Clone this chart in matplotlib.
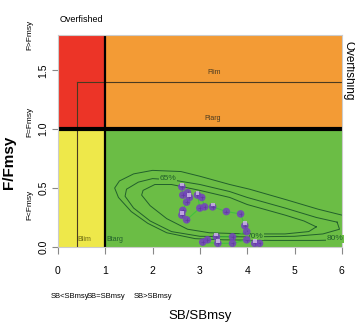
import numpy as np
import matplotlib
matplotlib.use('Agg')
import matplotlib.pyplot as plt

# reference points
Bmsy = 1.0
Fmsy = 1.0
Blim = 0.4
Flim = 1.4
xmax, ymax = 6.0, 1.8

# stock trajectory (SB/SBmsy, F/Fmsy)
traj_b = [2.62, 2.64, 2.74, 2.78, 2.72, 2.64, 2.62, 2.72, 3.00, 2.95, 3.04, 3.10, 3.27,
          3.56, 3.86, 3.95, 3.99, 3.69, 3.35, 3.16, 3.06, 3.38, 3.69, 3.99, 4.16, 4.26]
traj_f = [0.51, 0.44, 0.46, 0.42, 0.38, 0.31, 0.27, 0.23, 0.33, 0.44, 0.42, 0.34, 0.34,
          0.30, 0.28, 0.18, 0.13, 0.085, 0.085, 0.06, 0.04, 0.03, 0.03, 0.06, 0.03, 0.03]

# probability contours
c80_x = [6.0, 5.5, 4.83, 4.05, 3.63, 3.0, 2.6, 2.0, 1.6, 1.3, 1.2, 1.28, 1.55, 1.9, 2.3, 2.9, 3.5, 4.5, 5.5, 6.0]
c80_y = [0.27, 0.32, 0.40, 0.49, 0.53, 0.60, 0.64, 0.65, 0.62, 0.56, 0.50, 0.42, 0.30, 0.20, 0.12, 0.07, 0.06, 0.055, 0.055, 0.06]
c70_x = [5.9, 5.46, 4.8, 4.0, 3.63, 3.0, 2.4, 2.0, 1.7, 1.45, 1.42, 1.6, 1.95, 2.4, 3.0, 4.0, 5.0, 5.6, 5.95, 5.9]
c70_y = [0.21, 0.25, 0.33, 0.42, 0.47, 0.53, 0.57, 0.58, 0.55, 0.49, 0.43, 0.33, 0.22, 0.13, 0.09, 0.085, 0.09, 0.11, 0.15, 0.21]
c65_x = [5.46, 5.2, 4.8, 4.0, 3.63, 3.0, 2.4, 2.05, 1.8, 1.77, 1.95, 2.3, 2.74, 3.2, 4.0, 4.8, 5.3, 5.46]
c65_y = [0.17, 0.22, 0.27, 0.36, 0.42, 0.48, 0.53, 0.53, 0.48, 0.44, 0.35, 0.24, 0.15, 0.12, 0.11, 0.11, 0.13, 0.17]

red = '#EC3427'
orange = '#F39B35'
yellow = '#EEE84A'
green = '#6BBD45'
plt.rcParams['font.family'] = ['Liberation Sans', 'DejaVu Sans']

fig = plt.figure(figsize=(3.55, 3.27), dpi=100)
ax = fig.add_axes([0.163, 0.245, 0.8, 0.648])

ax.fill_between([0, Bmsy], Fmsy, ymax, color=red, lw=0)
ax.fill_between([Bmsy, xmax], Fmsy, ymax, color=orange, lw=0)
ax.fill_between([0, Bmsy], 0, Fmsy, color=yellow, lw=0)
ax.fill_between([Bmsy, xmax], 0, Fmsy, color=green, lw=0)

ax.plot([Blim, Blim], [0, Flim], color='#4a3a20', lw=0.8)
ax.plot([Blim, xmax], [Flim, Flim], color='#4a3a20', lw=0.8)
ax.axvline(Bmsy, color='black', lw=1.6)
ax.axhline(Fmsy, color='black', lw=3)

for cx, cy in [(c80_x, c80_y), (c70_x, c70_y), (c65_x, c65_y)]:
    ax.plot(cx, cy, color='#22602c', lw=0.7)

lab = dict(fontsize=6, color='#22602c', ha='center', va='center',
           bbox=dict(facecolor=green, edgecolor='none', pad=0.3))
ax.text(2.33, 0.58, '65%', **lab)
ax.text(4.17, 0.09, '70%', **lab)
ax.text(5.85, 0.07, '80%', **lab)

ax.plot(traj_b, traj_f, color='#3cc23c', lw=0.8, alpha=0.9)
ax.errorbar(traj_b, traj_f, xerr=0.04, yerr=0.015, fmt='none', ecolor='black', elinewidth=0.5)
ax.scatter(traj_b, traj_f, s=30, color='#7440C0', alpha=0.85, edgecolors='none', zorder=5)
ax.scatter(traj_b[::3], np.array(traj_f[::3]) + 0.02, s=8, marker='s', color='#D2BFEA',
           alpha=0.8, edgecolors='none', zorder=6)

ax.text(3.3, 1.48, 'Flim', fontsize=5, color='#4a3a20', ha='center', va='center')
ax.text(3.27, 1.09, 'Ftarg', fontsize=5, color='#4a3a20', ha='center', va='center')
ax.text(0.55, 0.06, 'Blim', fontsize=5, color='#6b6a10', ha='center', va='center')
ax.text(1.2, 0.06, 'Btarg', fontsize=5, color='#22602c', ha='center', va='center')

ax.set_xlim(0, xmax)
ax.set_ylim(0, ymax)
ax.set_xticks([0, 1, 2, 3, 4, 5, 6])
ax.set_yticks([0, 0.5, 1.0, 1.5])
ax.set_xticklabels(['0', '1', '2', '3', '4', '5', '6'], fontsize=7.5)
ax.set_yticklabels(['0.0', '0.5', '1.0', '1.5'], rotation=90, va='center', fontsize=7.5)
ax.tick_params(axis='x', length=5, width=0.8, color='#888888', pad=9)
ax.tick_params(axis='y', length=4, width=0.8, color='#888888', pad=3)
for s in ax.spines.values():
    s.set_color('#cccccc')
    s.set_linewidth(0.8)

ax.set_xlabel('SB/SBmsy', fontsize=9.5)
ax.xaxis.set_label_coords(0.5, -0.30)
ax.set_ylabel('F/Fmsy', fontsize=11, fontweight='bold')
ax.yaxis.set_label_coords(-0.148, 0.40)

fig.text(0.168, 0.94, 'Overfished', fontsize=6.5, ha='left', va='center')
fig.text(0.982, 0.785, 'Overfishing', fontsize=8.5, rotation=-90, ha='center', va='center')
fig.text(0.085, 0.893, 'F>Fmsy', fontsize=6, rotation=90, ha='center', va='center')
fig.text(0.085, 0.627, 'F=Fmsy', fontsize=6, rotation=90, ha='center', va='center')
fig.text(0.085, 0.373, 'F<Fmsy', fontsize=6, rotation=90, ha='center', va='center')
fig.text(0.196, 0.092, 'SB<SBmsy', fontsize=5.5, ha='center', va='center')
fig.text(0.298, 0.092, 'SB=SBmsy', fontsize=5.5, ha='center', va='center')
fig.text(0.431, 0.092, 'SB>SBmsy', fontsize=5.5, ha='center', va='center')

fig.savefig('out.png', dpi=100)
